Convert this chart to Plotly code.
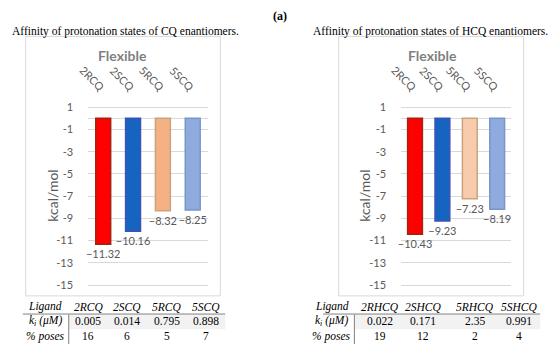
import plotly.graph_objects as go

W, H = 550, 347

# ---- data ----
cat_labels = ["2RCQ", "2SCQ", "5RCQ", "5SCQ"]
cq_values = [-11.32, -10.16, -8.32, -8.25]
hcq_values = [-10.43, -9.23, -7.23, -8.19]
bar_colors = ["#ff0000", "#1565c0", "#f4b183", "#8faadc"]
bar_colors_r = ["#ff0000", "#1565c0", "#f8cbad", "#8faadc"]
edge_colors = ["#a3230f", "#3f51b5", "#c9a37f", "#7a95c8"]

cq_table_cols = ["2RCQ", "2SCQ", "5RCQ", "5SCQ"]
cq_ki = ["0.005", "0.014", "0.795", "0.898"]
cq_poses = ["16", "6", "5", "7"]
hcq_table_cols = ["2RHCQ", "2SHCQ", "5RHCQ", "5SHCQ"]
hcq_ki = ["0.022", "0.171", "2.35", "0.991"]
hcq_poses = ["19", "12", "2", "4"]
yticks = [1, -1, -3, -5, -7, -9, -11, -13, -15]


def px(x):
    return x / W


def py(y):
    return 1 - y / H


def fmt(v):
    return ("\u2212%.2f" % abs(v)) if v < 0 else "%.2f" % v


GRAY = "#595959"
fig = go.Figure()

fig.add_trace(go.Bar(x=cat_labels, y=cq_values, width=0.5,
                     marker=dict(color=bar_colors, line=dict(color=edge_colors, width=1.5)),
                     text=[fmt(v) for v in cq_values], textposition="outside",
                     constraintext="none",
                     textfont=dict(size=11, color=GRAY, family="Lato"),
                     cliponaxis=False, xaxis="x", yaxis="y", showlegend=False))
fig.add_trace(go.Bar(x=cat_labels, y=hcq_values, width=0.54,
                     marker=dict(color=bar_colors_r, line=dict(color=edge_colors, width=1.5)),
                     text=[fmt(v) for v in hcq_values], textposition="outside",
                     constraintext="none",
                     textfont=dict(size=11, color=GRAY, family="Lato"),
                     cliponaxis=False, xaxis="x2", yaxis="y2", showlegend=False))

yd = [py(289.4), py(101.6)]
yax = dict(range=[-15.3, 1.3], tickvals=yticks, ticktext=[str(t) for t in yticks],
           showgrid=True, gridcolor="#d9d9d9", gridwidth=1, zeroline=True,
           zerolinecolor="#d9d9d9", zerolinewidth=1, ticks="outside", ticklen=12,
           tickcolor="rgba(0,0,0,0)", tickfont=dict(size=11, color=GRAY, family="Lato"),
           showline=False, domain=yd, fixedrange=True)
xax = dict(side="top", tickangle=45, tickfont=dict(size=11, color=GRAY, family="Lato"),
           showgrid=False, showline=False, zeroline=False, ticks="outside", ticklen=5,
           tickcolor="rgba(0,0,0,0)", fixedrange=True)

fig.update_layout(
    width=W, height=H, margin=dict(l=0, r=0, t=0, b=0),
    paper_bgcolor="white", plot_bgcolor="white", bargap=0.5,
    xaxis=dict(domain=[px(78), px(200)], anchor="y", **xax),
    yaxis=dict(anchor="x", **yax),
    xaxis2=dict(domain=[px(398), px(510)], anchor="y2", **xax),
    yaxis2=dict(anchor="x2", **yax),
)

ann = []
shapes = []
SERIF = "Liberation Serif"

def add_text(x, y, text, size=11, color="black", family=SERIF, angle=0, xanchor="center"):
    ann.append(dict(x=px(x), y=py(y), xref="paper", yref="paper", text=text, showarrow=False,
                    font=dict(size=size, color=color, family=family), textangle=angle,
                    xanchor=xanchor, yanchor="middle"))

add_text(274, 12, "<b>(a)</b>", size=12)
add_text(116, 28, "Affinity of protonation states of CQ enantiomers.", size=11.5)
add_text(428, 28, "Affinity of protonation states of HCQ enantiomers.", size=11.5)
add_text(113, 52, "<b>Flexible</b>", size=14, color="#7f7f7f", family="Lato")
add_text(430, 52, "<b>Flexible</b>", size=14, color="#7f7f7f", family="Lato")
add_text(42, 195, "kcal/mol", size=14, color=GRAY, family="Lato", angle=-90)
add_text(360, 195, "kcal/mol", size=14, color=GRAY, family="Lato", angle=-90)

# panel borders
for x0, x1 in [(14, 213), (334, 523)]:
    shapes.append(dict(type="rect", xref="paper", yref="paper", x0=px(x0), x1=px(x1),
                       y0=py(297), y1=py(33), line=dict(color="#d9d9d9", width=1)))

# tables
def table(lig_x, col_xs, cols, ki, poses, x0, x1, vx):
    shapes.append(dict(type="rect", xref="paper", yref="paper", x0=px(vx), x1=px(x1),
                       y0=py(331), y1=py(316), fillcolor="#f2f2f2", line=dict(width=0), layer="below"))
    shapes.append(dict(type="line", xref="paper", yref="paper", x0=px(x0), x1=px(x1),
                       y0=py(315.5), y1=py(315.5), line=dict(color="#808080", width=1)))
    shapes.append(dict(type="line", xref="paper", yref="paper", x0=px(vx), x1=px(vx),
                       y0=py(316), y1=py(346), line=dict(color="#808080", width=1)))
    add_text(lig_x, 308, "<i>Ligand</i>", size=11.5)
    add_text(lig_x, 323, "<i>k<sub>i</sub> (\u03bcM)</i>", size=11.5)
    add_text(lig_x, 338, "<i>% poses</i>", size=11.5)
    for cx, c, k, p in zip(col_xs, cols, ki, poses):
        add_text(cx, 308, "<i>%s</i>" % c, size=11.5)
        add_text(cx, 323, k, size=11.5)
        add_text(cx, 338, p, size=11.5)

table(34, [78, 118, 158, 198], cq_table_cols, cq_ki, cq_poses, 11, 218, 58)
table(327, [376, 420, 473, 518], hcq_table_cols, hcq_ki, hcq_poses, 318, 540, 350)

fig.update_layout(annotations=ann, shapes=shapes)
fig.write_html("out.html", config={"displayModeBar": False},
               post_script="document.body.style.margin='0';document.body.style.overflow='hidden';")
